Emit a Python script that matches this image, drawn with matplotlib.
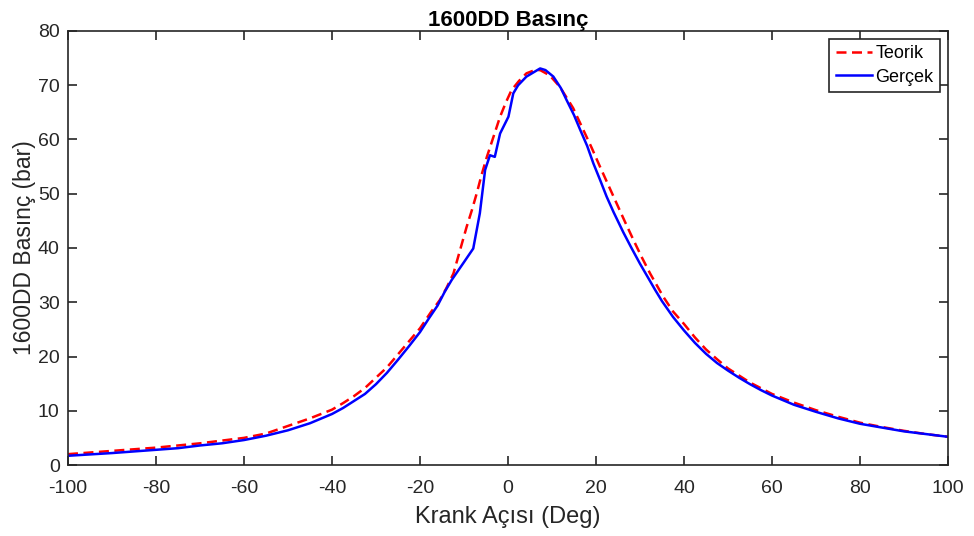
import matplotlib.pyplot as plt
import numpy as np

plt.rcParams['font.family'] = ['Liberation Sans', 'DejaVu Sans']
plt.rcParams['axes.unicode_minus'] = False

# Teorik (red dashed)
teorik_x = [-100, -90, -80, -70, -65, -60, -55, -50, -45, -40, -37.5, -35, -32.5, -30,
            -27.5, -25, -22.5, -20, -17.5, -15.5, -14, -12.4, -10.9, -9.4, -8.2, -7.1,
            -6, -4.8, -3.3, -1.8, -0.5, 0.8, 2.5, 4.2, 5.8, 7.3, 9.5, 11.8, 14.8, 17.1,
            19, 20.9, 22.8, 24.7, 26.6, 28.5, 30.4, 32.3, 35.3, 37.5, 40, 42.5, 45,
            47.5, 50, 55, 60, 65, 70, 75, 80, 85, 90, 95, 100]
teorik_y = [2.0, 2.6, 3.2, 4.0, 4.5, 5.0, 5.8, 7.2, 8.6, 10.2, 11.4, 12.7, 14.2, 16.1,
            18.0, 20.4, 22.8, 25.2, 28.2, 30.4, 32.6, 35.3, 39.6, 43.9, 47.0, 50.1,
            53.5, 56.8, 60.5, 64.2, 66.8, 69.1, 70.8, 72.2, 72.7, 72.8, 71.8, 69.7, 65.8,
            61.8, 58.5, 55.0, 51.6, 48.2, 44.8, 41.5, 38.3, 35.3, 31.0, 28.3, 26.0,
            23.5, 21.3, 19.5, 17.8, 15.2, 13.1, 11.5, 10.1, 8.9, 7.8, 7.0, 6.3, 5.7, 5.2]

# Gercek (blue solid)
gercek_x = [-100, -90, -80, -75, -70, -65, -60, -55, -50, -45, -40, -37.5, -35, -32.5,
            -30, -27.5, -25, -22.5, -20, -18, -16, -14.4, -12.8, -10, -7.9, -6.4, -5.2,
            -4.1, -3.0, -1.8, 0.1, 1.2, 2.3, 4.2, 7.3, 8.5, 10.3, 12, 13.3, 15, 16.4,
            18, 19.4, 21, 22.4, 24, 26.2, 28, 30, 32, 33.5, 35, 37.5, 40, 42.5, 45, 47.5,
            50, 52.5, 55, 57.5, 60, 65, 70, 75, 80, 85, 90, 95, 100]
gercek_y = [1.7, 2.2, 2.8, 3.1, 3.6, 4.0, 4.6, 5.4, 6.4, 7.7, 9.4, 10.5, 11.8, 13.1,
            14.9, 17.0, 19.4, 21.9, 24.5, 27.0, 29.4, 31.9, 34.1, 37.4, 39.9, 46.4, 54.4,
            57.1, 56.8, 61.1, 64.2, 68.5, 70.0, 71.6, 73.1, 72.8, 71.6, 69.5, 67.3, 64.5,
            61.8, 58.8, 55.6, 52.4, 49.5, 46.6, 42.9, 40.1, 37.1, 34.3, 32.2, 30.2, 27.3,
            24.8, 22.5, 20.5, 18.8, 17.4, 16.1, 14.9, 13.8, 12.8, 11.1, 9.8, 8.6, 7.6, 6.9,
            6.2, 5.7, 5.2]

fig = plt.figure(figsize=(9.74, 5.36), dpi=100)
ax = fig.add_axes([68 / 974, 1 - 465 / 536, 880 / 974, 434 / 536])

ax.plot(teorik_x, teorik_y, color='#ff0000', linestyle=(0, (4, 2.2)), lw=1.8, label='Teorik')
ax.plot(gercek_x, gercek_y, color='#0000ff', lw=1.8, label='Gerçek')

ax.set_xlim(-100, 100)
ax.set_ylim(0, 80)
ax.set_xticks(np.arange(-100, 101, 20))
ax.set_yticks(np.arange(0, 81, 10))

dark = '#262626'
for s in ax.spines.values():
    s.set_color(dark)
    s.set_linewidth(1.2)
ax.tick_params(direction='in', length=6.5, width=1.2, colors=dark,
               top=True, right=True, labelsize=14)
ax.tick_params(axis='x', pad=11)
ax.tick_params(axis='y', pad=6)

ax.set_xlabel('Krank Açısı (Deg)', fontsize=17, color=dark, labelpad=6)
ax.set_ylabel('1600DD Basınç (bar)', fontsize=16.5, color=dark, labelpad=1)
ax.set_title('1600DD Basınç', fontsize=16, fontweight='bold', pad=3.5)

leg = ax.legend(loc='upper right', fontsize=13, fancybox=False, framealpha=1,
                edgecolor=dark, handlelength=2.0, handletextpad=0.2,
                borderaxespad=0.45, borderpad=0.35, labelspacing=0.35)
leg.get_frame().set_linewidth(1.2)

plt.savefig('out.png', dpi=100)
